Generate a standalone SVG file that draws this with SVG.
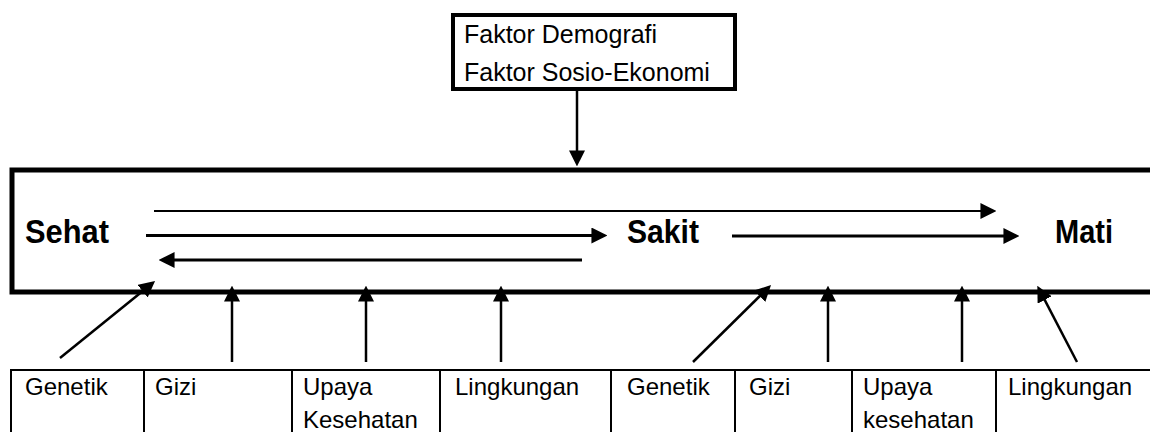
<svg xmlns="http://www.w3.org/2000/svg" width="1150" height="432" viewBox="0 0 1150 432">
<style>
.t{font-family:"Liberation Sans",Arial,sans-serif;font-size:24px;fill:#000}
.f{font-size:25px}
.b{font-family:"Liberation Sans",Arial,sans-serif;font-size:33px;font-weight:bold;fill:#000}
.cell{fill:none;stroke:#000;stroke-width:2}
.ln{fill:none;stroke:#000;stroke-width:2.5}
.thin{stroke-width:2}
.thick{stroke-width:3}
</style>
<defs>
<marker id="ah" markerUnits="userSpaceOnUse" markerWidth="16" markerHeight="16" viewBox="0 0 14 14" refX="4" refY="7" orient="auto">
<path d="M0,0 L14,7 L0,14 z" fill="#000"/>
</marker>
</defs>
<rect width="1150" height="432" fill="#fff"/>
<g id="faktor">
<rect x="453" y="15" width="282" height="74" fill="#fff" stroke="#000" stroke-width="4"/>
<text class="t f" x="464" y="43">Faktor Demografi</text>
<text class="t f" x="464" y="81">Faktor Sosio-Ekonomi</text>
</g>
<g id="proses">
<path d="M1155,170 H12 V292 H1155" fill="none" stroke="#000" stroke-width="5"/>
</g>
<g id="sehat"><text class="b" x="25" y="243" textLength="84" lengthAdjust="spacingAndGlyphs">Sehat</text></g>
<g id="sakit"><text class="b" x="627" y="243" textLength="72" lengthAdjust="spacingAndGlyphs">Sakit</text></g>
<g id="mati"><text class="b" x="1055" y="243" textLength="58" lengthAdjust="spacingAndGlyphs">Mati</text></g>
<g id="tabel">
<path class="cell" d="M11,432 V370 H1152"/>
<g id="c1"><path class="cell" d="M144,370 V432"/><text class="t" x="25" y="395">Genetik</text></g>
<g id="c2"><path class="cell" d="M292,370 V432"/><text class="t" x="155" y="395">Gizi</text></g>
<g id="c3"><path class="cell" d="M440,370 V432"/><text class="t" x="303" y="395">Upaya</text><text class="t" x="303" y="428">Kesehatan</text></g>
<g id="c4"><path class="cell" d="M611,370 V432"/><text class="t" x="455" y="395">Lingkungan</text></g>
<g id="c5"><path class="cell" d="M735,370 V432"/><text class="t" x="627" y="395">Genetik</text></g>
<g id="c6"><path class="cell" d="M852,370 V432"/><text class="t" x="749" y="395">Gizi</text></g>
<g id="c7"><path class="cell" d="M996,370 V432"/><text class="t" x="863" y="395">Upaya</text><text class="t" x="863" y="428">kesehatan</text></g>
<g id="c8"><text class="t" x="1008" y="395">Lingkungan</text></g>
</g>
<g id="connectors">
<line class="ln" x1="577" y1="91" x2="577" y2="155" marker-end="url(#ah)"/>
<line class="ln thin" x1="154" y1="211" x2="985" y2="211" marker-end="url(#ah)"/>
<line class="ln thick" x1="146" y1="235.5" x2="596" y2="235.5" marker-end="url(#ah)"/>
<line class="ln thick" x1="582" y1="260" x2="170" y2="260" marker-end="url(#ah)"/>
<line class="ln thick" x1="732" y1="236" x2="1008" y2="236" marker-end="url(#ah)"/>
<line class="ln" x1="60" y1="358" x2="146.2" y2="288.3" marker-end="url(#ah)"/>
<line class="ln" x1="232" y1="362" x2="232" y2="297" marker-end="url(#ah)"/>
<line class="ln" x1="366" y1="362" x2="366" y2="297" marker-end="url(#ah)"/>
<line class="ln" x1="501" y1="362" x2="501" y2="297" marker-end="url(#ah)"/>
<line class="ln" x1="693" y1="362" x2="762.9" y2="293" marker-end="url(#ah)"/>
<line class="ln" x1="828" y1="362" x2="828" y2="297" marker-end="url(#ah)"/>
<line class="ln" x1="962" y1="362" x2="962" y2="297" marker-end="url(#ah)"/>
<line class="ln" x1="1077" y1="362" x2="1042.6" y2="295.9" marker-end="url(#ah)"/>
</g>
</svg>
